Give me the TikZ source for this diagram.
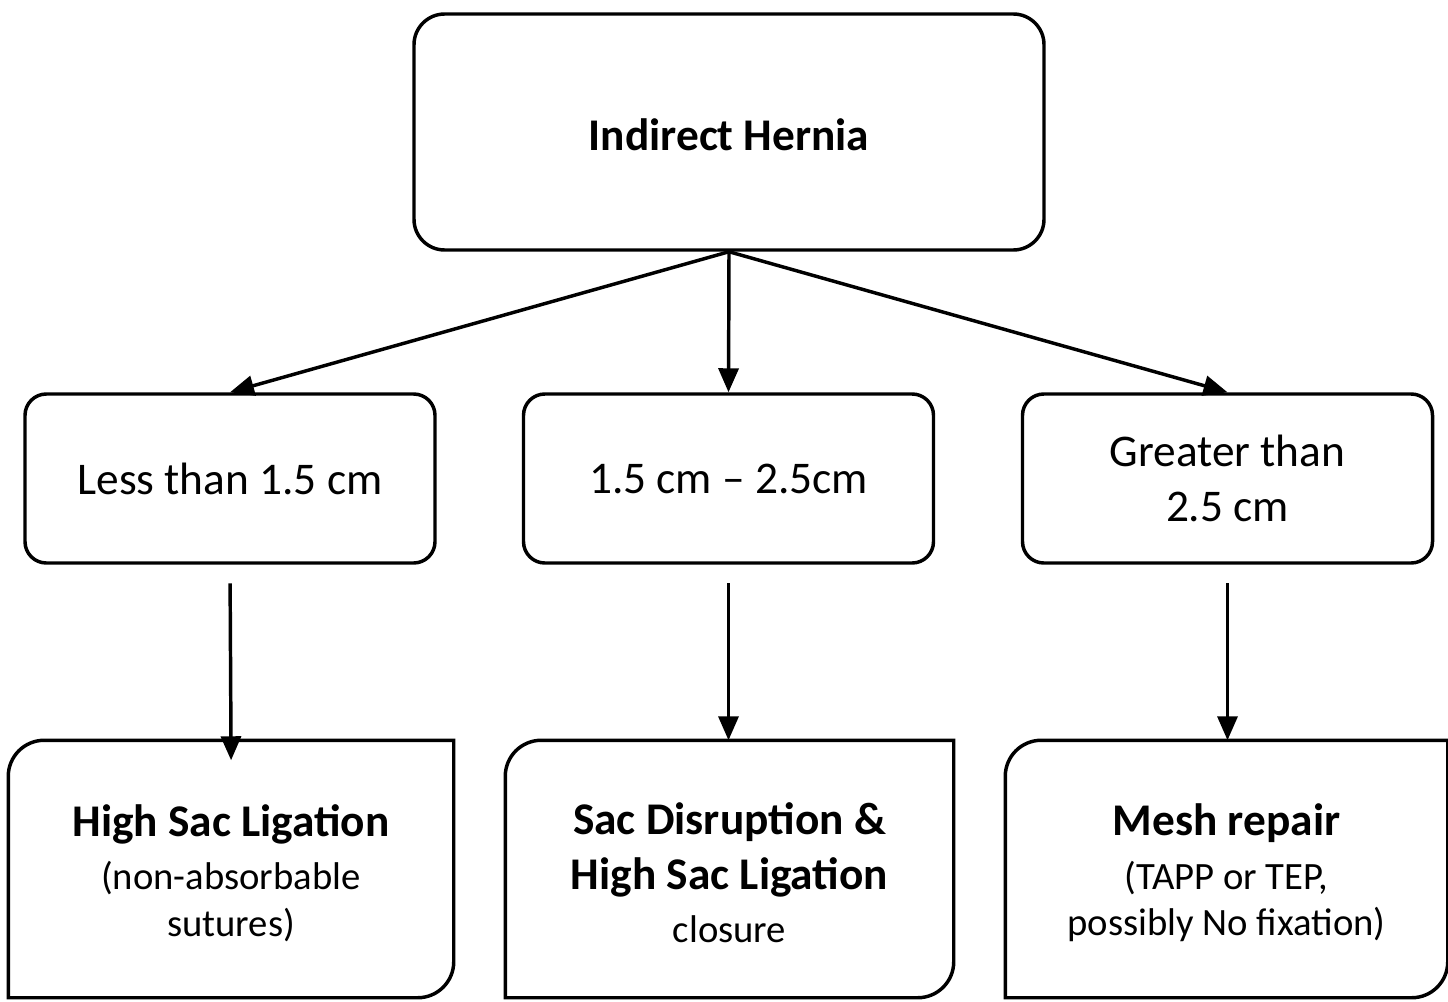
\documentclass[tikz,border=0pt]{standalone}
\usepackage{fontspec}
\setmainfont{Carlito}
\usetikzlibrary{arrows.meta,calc}

\newcommand{\headfont}{\fontsize{34}{41}\selectfont}
\newcommand{\notefont}{\fontsize{29}{35}\selectfont}

\tikzset{every picture/.style={line width=2.6pt}}
\tikzset{
  sizebox/.style={draw, rounded corners=16pt, align=center, inner sep=0pt,
    minimum width=307.5pt, minimum height=126.75pt, font=\headfont},
  outcome/.style={align=center, inner sep=0pt, minimum height=190.5pt, font=\notefont},
  link/.style={-{Triangle[length=18pt,width=15pt]}},
}

\begin{document}
\begin{tikzpicture}[x=0.75pt,y=0.75pt,yscale=-1]
	\useasboundingbox (0,0) rectangle (1448,1002);

	%Shape: Rounded Rect [id:hernia]
	\node [draw, rounded corners=23pt, align=center, inner sep=0pt, minimum width=472.5pt, minimum height=177pt, text height=28pt, text depth=0pt, font=\headfont\bfseries] (hernia) at (729,132) {Indirect Hernia};

	%Shape: Rounded Rect [id:small]
	\node [sizebox] (small) at (230,478.5) {Less than 1.5 cm};
	%Shape: Rounded Rect [id:medium]
	\node [sizebox] (medium) at (728.5,478.5) {1.5 cm – 2.5cm};
	%Shape: Rounded Rect [id:large]
	\node [sizebox] (large) at (1227.5,478.5) {Greater than\\2.5 cm};

	% Text Node
	\node [outcome, minimum width=331.5pt] (lig) at (231,873) {{\headfont\bfseries High Sac Ligation}\\[5pt](non-absorbable\\sutures)};
	% Text Node
	\node [outcome, minimum width=333.75pt] (dis) at (729.5,873) {{\headfont\bfseries Sac Disruption \&}\\[6pt]{\headfont\bfseries High Sac Ligation}\\[5pt]closure};
	% Text Node
	\node [outcome, minimum width=329.25pt] (mesh) at (1226.5,873) {{\headfont\bfseries Mesh repair}\\[5pt](TAPP or TEP,\\possibly No fixation)};

	%Shape: Outcome boxes, two corners rounded
	\foreach \n in {lig,dis,mesh}
		\draw ($(\n.south west)+(0,-4)$) -- ($(\n.north west)+(0,32)$) arc[start angle=180,end angle=270,radius=36] -- ($(\n.north east)+(0,-4)$) -- ($(\n.south east)+(0,-40)$) arc[start angle=0,end angle=90,radius=36] -- cycle;

	%Straight Lines
	\draw [link] (hernia.south) -- (small.north);
	\draw [link] (hernia.south) -- (medium.north);
	\draw [link] (hernia.south) -- (large.north);

	%Straight Lines
	\draw [link, shorten <=14pt, shorten >=-12pt] (small.south) -- (lig.north);
	\draw [link, shorten <=14pt, shorten >=3pt] (medium.south) -- (medium.south |- dis.north);
	\draw [link, shorten <=14pt, shorten >=3pt] (large.south) -- (large.south |- mesh.north);

\end{tikzpicture}
\end{document}
